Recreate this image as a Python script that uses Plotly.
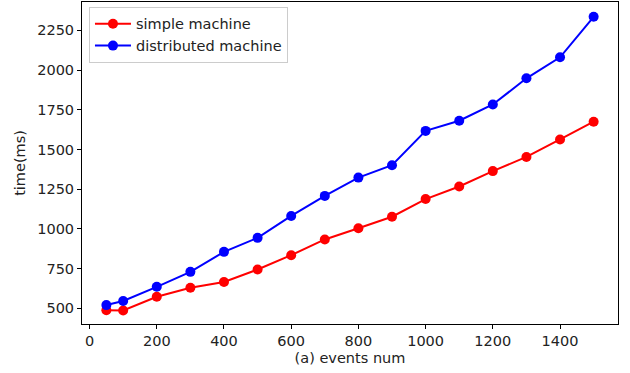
import plotly.graph_objects as go

events = [50, 100, 200, 300, 400, 500, 600, 700, 800, 900, 1000, 1100, 1200, 1300, 1400, 1500]
simple_ms = [489, 487, 573, 630, 666, 745, 835, 934, 1004, 1077, 1188, 1267, 1364, 1453, 1563, 1675]
distributed_ms = [521, 547, 636, 730, 856, 944, 1082, 1208, 1323, 1401, 1617, 1681, 1783, 1948, 2080, 2335]

xticks = [0, 200, 400, 600, 800, 1000, 1200, 1400]
yticks = [500, 750, 1000, 1250, 1500, 1750, 2000, 2250]

font = "DejaVu Sans"
fsize = 14.5

fig = go.Figure()
fig.add_trace(go.Scatter(x=events, y=simple_ms, mode="lines+markers", name="simple machine",
                         line=dict(color="#ff0000", width=2), marker=dict(color="#ff0000", size=10)))
fig.add_trace(go.Scatter(x=events, y=distributed_ms, mode="lines+markers", name="distributed machine",
                         line=dict(color="#0000ff", width=2), marker=dict(color="#0000ff", size=10)))

axis_common = dict(showline=True, mirror=True, linecolor="black", linewidth=1,
                   ticks="outside", ticklen=4, tickcolor="black", showgrid=False, zeroline=False,
                   automargin=False,
                   tickfont=dict(family=font, size=fsize, color="#222"))

fig.update_layout(
    width=630, height=373,
    margin=dict(l=82, r=12, t=2, b=49),
    paper_bgcolor="white", plot_bgcolor="white",
    font=dict(family=font, size=fsize, color="#222"),
    hovermode=False,
    showlegend=True,
    legend=dict(x=0.013, y=0.985, xanchor="left", yanchor="top",
                bgcolor="rgba(255,255,255,0.8)", bordercolor="#cccccc", borderwidth=1,
                itemwidth=36,
                font=dict(family=font, size=fsize, color="#222"), tracegroupgap=0),
    xaxis=dict(range=[-22.5, 1572.5], tickvals=xticks,
               title=dict(text="(a) events num", standoff=4, font=dict(family=font, size=fsize)),
               **axis_common),
    yaxis=dict(range=[402, 2428], tickvals=yticks,
               title=dict(text="time(ms)", standoff=8, font=dict(family=font, size=fsize)),
               **axis_common),
)

fig.write_html("out.html", config={"displayModeBar": False},
               post_script="document.body.style.margin='0';")
